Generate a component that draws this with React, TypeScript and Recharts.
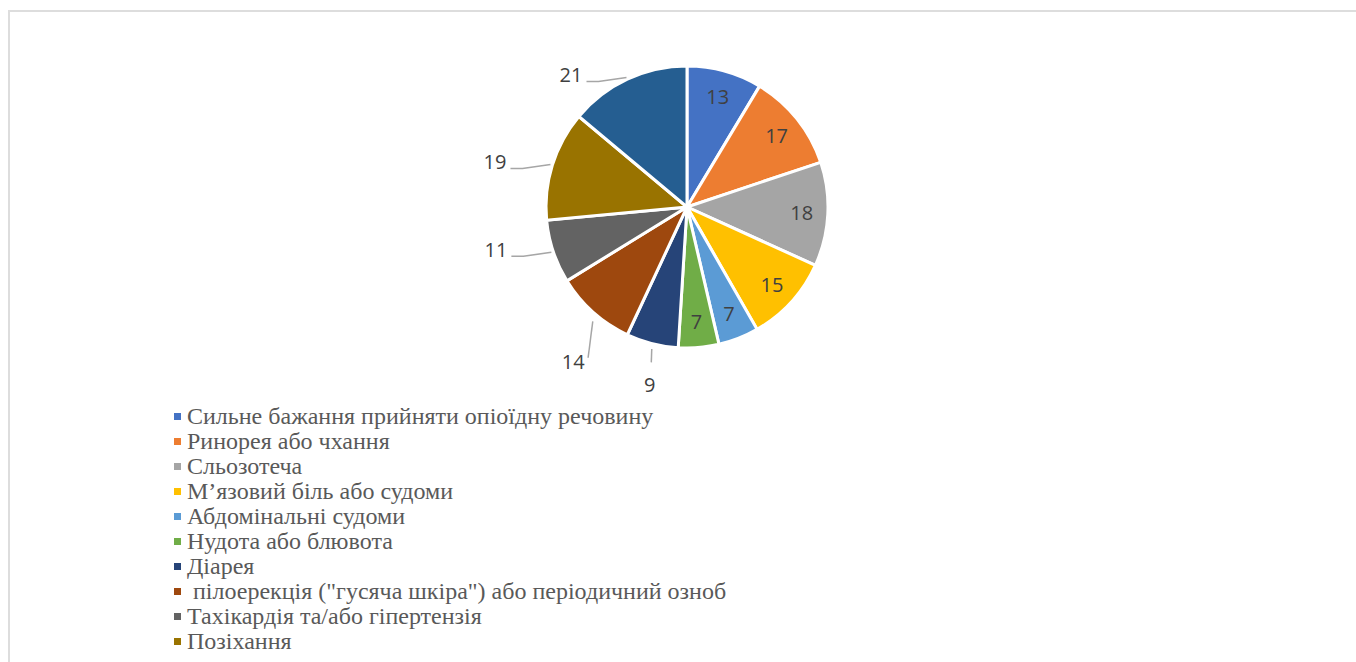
import React from "react";
import { PieChart, Pie, Cell, Legend } from "recharts";

const categories = [
  "Сильне бажання прийняти опіоїдну речовину",
  "Ринорея або чхання",
  "Сльозотеча",
  "М’язовий біль або судоми",
  "Абдомінальні судоми",
  "Нудота або блювота",
  "Діарея",
  " пілоерекція (\"гусяча шкіра\") або періодичний озноб",
  "Тахікардія та/або гіпертензія",
  "Позіхання",
  "Безсоння",
];

const values = [13, 17, 18, 15, 7, 7, 9, 14, 11, 19, 21];

const colors = [
  "#4472C4",
  "#ED7D31",
  "#A5A5A5",
  "#FFC000",
  "#5B9BD5",
  "#70AD47",
  "#264478",
  "#9E480E",
  "#636363",
  "#997300",
  "#255E91",
];

const data = categories.map((name, i) => ({ name, value: values[i] }));

const RAD = Math.PI / 180;
const LABEL_FONT = "'Open Sans', 'Noto Sans', sans-serif";
const LINE = "#A6A6A6";

const renderLabel = (props: any) => {
  const { cx, cy, midAngle, outerRadius, value, index } = props;
  const dx = Math.cos(-midAngle * RAD);
  const dy = Math.sin(-midAngle * RAD);
  if (dx >= 0) {
    const r = outerRadius * 0.815;
    return (
      <text
        key={`l-${index}`}
        x={cx + r * dx}
        y={cy + r * dy}
        fill="#404040"
        fontFamily={LABEL_FONT}
        fontSize={20}
        textAnchor="middle"
        dominantBaseline="central"
      >
        {value}
      </text>
    );
  }
  const ax = cx + (outerRadius + 2) * dx;
  const ay = cy + (outerRadius + 2) * dy;
  const adx = Math.abs(dx);
  if (dy > 0.5) {
    // lower labels: leader goes down, number below
    const tx = ax - 40 * (adx - 0.2);
    const ty = ay + 39 + 20 * (adx - 0.25);
    const sx = ax + 2 * (adx - 0.2);
    const sy = ay + 3 + 10 * (adx - 0.2);
    const ex = ax - 8 * (adx - 0.2);
    const ey = ty - 22 + 45 * (adx - 0.25);
    return (
      <g key={`l-${index}`}>
        <polyline points={`${sx},${sy} ${ex},${ey}`} stroke={LINE} strokeWidth={1.5} fill="none" />
        <text
          x={tx}
          y={ty}
          fill="#404040"
          fontFamily={LABEL_FONT}
          fontSize={20}
          textAnchor="middle"
          dominantBaseline="central"
        >
          {value}
        </text>
      </g>
    );
  }
  // left / upper-left labels: short bent leader then horizontal
  const bx = ax - 28;
  const by = ay + 4;
  const ex = bx - 12;
  return (
    <g key={`l-${index}`}>
      <polyline points={`${ax},${ay} ${bx},${by} ${ex},${by}`} stroke={LINE} strokeWidth={1.5} fill="none" />
      <text
        x={ex - 4}
        y={by - 7}
        fill="#404040"
        fontFamily={LABEL_FONT}
        fontSize={20}
        textAnchor="end"
        dominantBaseline="central"
      >
        {value}
      </text>
    </g>
  );
};

const renderLegend = (props: any) => {
  const payload = [...(props.payload || [])].sort(
    (a: any, b: any) => categories.indexOf(a.value) - categories.indexOf(b.value)
  );
  return (
    <div style={{ margin: 0, padding: 0, textAlign: "left", height: 250, overflow: "hidden" }}>
      {payload.map((entry: any, i: number) => (
        <div
          key={`leg-${i}`}
          style={{
            height: 25,
            display: "flex",
            alignItems: "center",
            whiteSpace: "pre",
          }}
        >
          <span
            style={{
              display: "inline-block",
              width: 7,
              height: 7,
              background: entry.color || colors[i],
              marginRight: 6,
              flex: "0 0 auto",
            }}
          />
          <span
            style={{
              fontFamily: "'Liberation Serif', 'DejaVu Serif', serif",
              fontSize: 24,
              color: "#595959",
              lineHeight: "25px",
            }}
          >
            {entry.value}
          </span>
        </div>
      ))}
    </div>
  );
};

export default function App() {
  return (
    <div
      style={{
        position: "fixed",
        left: 0,
        top: 0,
        width: 1356,
        height: 662,
        overflow: "hidden",
        background: "#fff",
      }}
    >
      <div
        style={{
          position: "absolute",
          left: 8,
          top: 10,
          width: 1400,
          height: 700,
          border: "2px solid #DDDDDD",
        }}
      />
      <div style={{ position: "absolute", left: 0, top: 0 }}>
        <PieChart width={1356} height={720} margin={{ top: 0, right: 0, bottom: 0, left: 0 }}>
          <Pie
            data={data}
            dataKey="value"
            nameKey="name"
            cx={687}
            cy={207}
            outerRadius={141}
            startAngle={90}
            endAngle={-270}
            stroke="#FFFFFF"
            strokeWidth={3}
            label={renderLabel}
            labelLine={false}
            isAnimationActive={false}
          >
            {data.map((d, i) => (
              <Cell key={`c-${i}`} fill={colors[i]} />
            ))}
          </Pie>
          <Legend
            layout="horizontal"
            align="left"
            verticalAlign="bottom"
            itemSorter={null as any}
            content={renderLegend}
            wrapperStyle={{ left: 174, top: 404, bottom: "auto", width: 800 }}
          />
        </PieChart>
      </div>
    </div>
  );
}
